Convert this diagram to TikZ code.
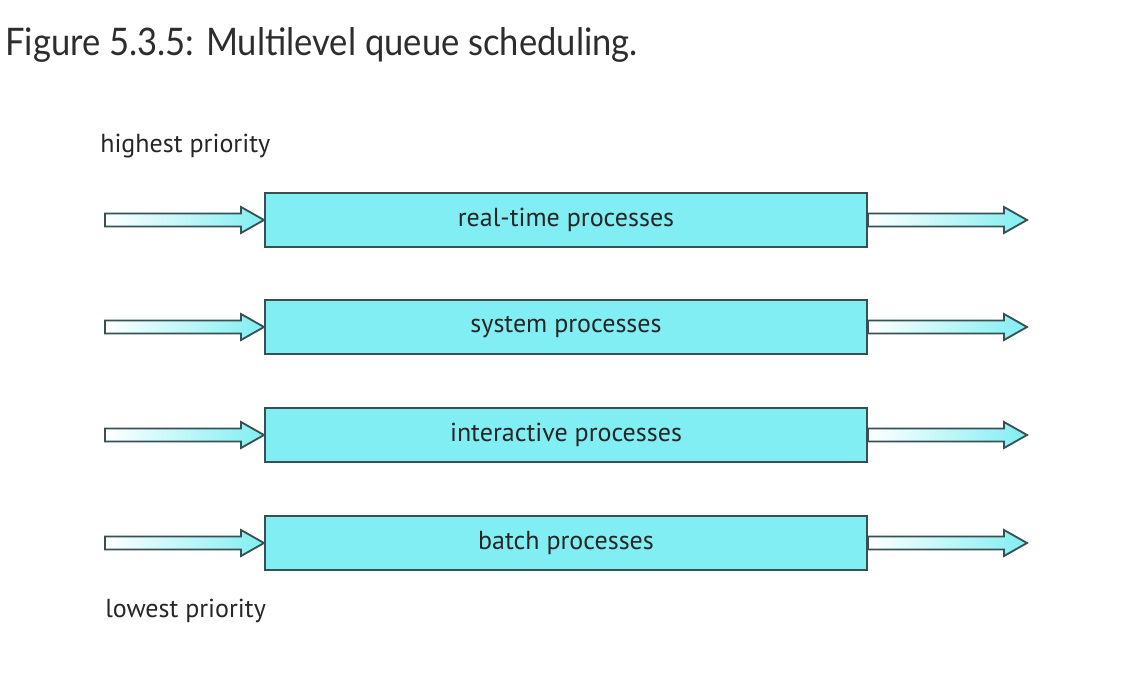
\documentclass[tikz,border=0pt]{standalone}
\usepackage{fontspec}
\setmainfont{PT Sans}
\newfontfamily\titlefont[FakeStretch=0.91]{Lato}
\usetikzlibrary{calc,positioning}
\definecolor{qcyan}{RGB}{128,238,242}
\definecolor{qedge}{RGB}{55,80,82}
\definecolor{titlegray}{RGB}{45,45,45}
\tikzset{
queue/.style={draw=qedge,line width=1.3pt,fill=qcyan,minimum width=15.05cm,minimum height=1.35cm,inner sep=0pt,text=black!85,font=\fontsize{18.5}{22}\selectfont},
pipe/.style={draw=qedge,line width=1.3pt,line join=miter,left color=white,right color=qcyan},
prio/.style={anchor=base west,inner sep=0pt,text=black!85,font=\fontsize{18.5}{22}\selectfont}
}
% arrow body from #1 to the tip #2
\newcommand{\pipearrow}[2]{%
  \path[pipe] ($(#1)+(0,-6.5)$) -- ($(#2)+(-23,-6.5)$) -- ($(#2)+(-23,-13)$) -- (#2)
    -- ($(#2)+(-23,13)$) -- ($(#2)+(-23,6.5)$) -- ($(#1)+(0,6.5)$) -- cycle;}

\begin{document}
\begin{tikzpicture}[x=0.025cm,y=-0.025cm]
	\useasboundingbox (0,0) rectangle (1138,676);
	% caption
	\node[anchor=base west,inner sep=0pt,text=titlegray,font=\titlefont\fontsize{27}{32}\selectfont] (title) at (5,56) {Figure 5.3.5: Multilevel queue scheduling.};
	\node[prio] (high) at (100,153) {highest priority};
	\node[prio] (low) at (105,617) {lowest priority};

	% queues
	\foreach \q/\y/\txt in {rt/220/real-time processes,sys/327/system processes,ia/435/interactive processes,bat/543/batch processes}{
		\node[queue] (\q) at (566,\y) {\txt};
		\coordinate (\q-in) at (105,\y);
		\coordinate (\q-out) at (1027,\y);
		\pipearrow{\q-in}{\q.west}
		\pipearrow{\q.east}{\q-out}
	}
\end{tikzpicture}
\end{document}
